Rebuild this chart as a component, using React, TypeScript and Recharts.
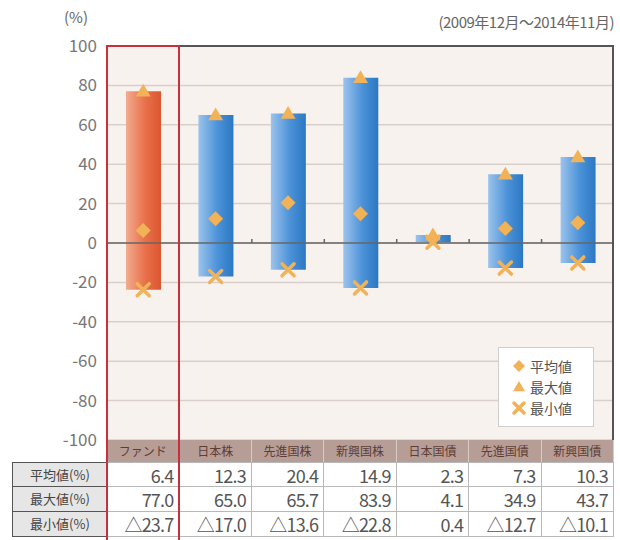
import React from "react";
import {
  ComposedChart,
  Bar,
  Scatter,
  XAxis,
  YAxis,
  CartesianGrid,
  ReferenceLine,
  Cell,
} from "recharts";

const categories = ["ファンド", "日本株", "先進国株", "新興国株", "日本国債", "先進国債", "新興国債"];
const avgValues = [6.4, 12.3, 20.4, 14.9, 2.3, 7.3, 10.3];
const maxValues = [77.0, 65.0, 65.7, 83.9, 4.1, 34.9, 43.7];
const minValues = [-23.7, -17.0, -13.6, -22.8, 0.4, -12.7, -10.1];
const yTicks = [-100, -80, -60, -40, -20, 0, 20, 40, 60, 80, 100];
const rowLabels = ["平均値(%)", "最大値(%)", "最小値(%)"];
const legendLabels = ["平均値", "最大値", "最小値"];

const chartData = categories.map((name, i) => ({
  name,
  range: [minValues[i], maxValues[i]],
  avg: avgValues[i],
  max: maxValues[i],
  min: minValues[i],
  // tick on the zero line at the left edge of this category (the first two fall on the red box)
  boundary: i >= 2 ? 0 : null,
}));

const MARK = "#f2b257";
const FONT = "'Noto Sans CJK JP', 'Noto Sans', sans-serif";

const CHART_W = 620;
const PLOT_TOP = 46;
const PLOT_BOTTOM = 440;
const PLOT_LEFT = 107;
const PLOT_RIGHT = 614;
const BAND = (PLOT_RIGHT - PLOT_LEFT) / categories.length;

function Diamond({ cx, cy, s = 7 }: any) {
  if (cx == null || cy == null) return null;
  return (
    <path
      d={`M${cx},${cy - s} L${cx + s},${cy} L${cx},${cy + s} L${cx - s},${cy} Z`}
      fill={MARK}
    />
  );
}

function Triangle({ cx, cy, s = 7 }: any) {
  if (cx == null || cy == null) return null;
  return (
    <path
      d={`M${cx},${cy - s} L${cx + s},${cy + s * 0.7} L${cx - s},${cy + s * 0.7} Z`}
      fill={MARK}
    />
  );
}

function XMark({ cx, cy, s = 6 }: any) {
  if (cx == null || cy == null) return null;
  return (
    <g stroke={MARK} strokeWidth={3.5} strokeLinecap="round">
      <line x1={cx - s} y1={cy - s} x2={cx + s} y2={cy + s} />
      <line x1={cx - s} y1={cy + s} x2={cx + s} y2={cy - s} />
    </g>
  );
}

function ZeroTick({ x, y }: any) {
  if (x == null || y == null || isNaN(y)) return null;
  const bx = x - BAND / 2;
  return <line x1={bx} y1={y} x2={bx} y2={y - 4} stroke="#666" strokeWidth={1.5} />;
}

function LegendBox() {
  const icons = [Diamond, Triangle, XMark];
  return (
    <div
      style={{
        position: "absolute",
        left: 498,
        top: 347,
        width: 96,
        height: 80,
        background: "#fff",
        border: "1px solid #cfcfcf",
        boxSizing: "border-box",
        padding: "7px 0 0 12px",
        fontSize: 14,
        color: "#555",
      }}
    >
      {legendLabels.map((label, i) => {
        const Icon = icons[i];
        return (
          <div key={label} style={{ display: "flex", alignItems: "center", height: 21 }}>
            <svg width={16} height={16} style={{ marginRight: 3 }}>
              <Icon cx={8} cy={8} s={i === 2 ? 5 : 6} />
            </svg>
            <span>{label}</span>
          </div>
        );
      })}
    </div>
  );
}

function fmtMin(v: number) {
  return v < 0 ? "△" + Math.abs(v).toFixed(1) : v.toFixed(1);
}

function DataTable() {
  const rows = [avgValues.map((v) => v.toFixed(1)), maxValues.map((v) => v.toFixed(1)), minValues.map(fmtMin)];
  const cellBase: React.CSSProperties = {
    height: 25,
    padding: "0 5px 0 0",
    textAlign: "right",
    fontSize: 18,
    color: "#555",
    borderRight: "1px solid #b8b8b8",
    borderBottom: "1px solid #b8b8b8",
    boxSizing: "border-box",
    letterSpacing: -0.8,
    lineHeight: "24px",
  };
  return (
    <div style={{ position: "absolute", left: 12, top: PLOT_BOTTOM }}>
      <div style={{ display: "flex", height: 22, marginLeft: PLOT_LEFT - 12 }}>
        {categories.map((c) => (
          <div
            key={c}
            style={{
              width: BAND,
              height: 22,
              background: "#b69d96",
              color: "#5e3d37",
              fontSize: 12,
              textAlign: "center",
              lineHeight: "22px",
              borderRight: "1px solid #d9cbc6",
              boxSizing: "border-box",
            }}
          >
            {c}
          </div>
        ))}
      </div>
      {rows.map((r, ri) => (
        <div key={ri} style={{ display: "flex" }}>
          <div
            style={{
              width: PLOT_LEFT - 12,
              height: 25,
              background: "#e6e6e6",
              color: "#444",
              fontSize: 13,
              lineHeight: "24px",
              textAlign: "center",
              borderLeft: "1.5px solid #555",
              borderBottom: "1.5px solid #555",
              borderTop: ri === 0 ? "1.5px solid #555" : "none",
              boxSizing: "border-box",
            }}
          >
            {rowLabels[ri]}
          </div>
          {r.map((v, ci) => (
            <div key={ci} style={{ ...cellBase, width: BAND, background: "#fff", borderTop: ri === 0 ? "1px solid #b8b8b8" : "none" }}>
              {v}
            </div>
          ))}
        </div>
      ))}
    </div>
  );
}

export default function App() {
  return (
    <div style={{ position: "fixed", left: 0, top: 0, width: 620, height: 540, background: "#fff", overflow: "hidden", fontFamily: FONT }}>
      <div style={{ position: "absolute", left: 64, top: 6, fontSize: 15, color: "#666" }}>(%)</div>
      <div style={{ position: "absolute", right: 6, top: 11, fontSize: 15, color: "#666", letterSpacing: -0.5 }}>
        (2009年12月～2014年11月)
      </div>
      <ComposedChart
        width={CHART_W}
        height={PLOT_BOTTOM + 14}
        data={chartData}
        margin={{ top: PLOT_TOP, right: CHART_W - PLOT_RIGHT, bottom: 14, left: PLOT_LEFT - 60 }}
        barCategoryGap={0}
      >
        <defs>
          <linearGradient id="fundGrad" x1="0" y1="0" x2="1" y2="0">
            <stop offset="0%" stopColor="#f3ab8f" />
            <stop offset="55%" stopColor="#e8704a" />
            <stop offset="100%" stopColor="#dc5630" />
          </linearGradient>
          <linearGradient id="blueGrad" x1="0" y1="0" x2="1" y2="0">
            <stop offset="0%" stopColor="#9cc3ec" />
            <stop offset="55%" stopColor="#4b92d8" />
            <stop offset="100%" stopColor="#2b78c3" />
          </linearGradient>
        </defs>
        <CartesianGrid vertical={false} stroke="#d8cfca" fill="#f8f2ee" strokeWidth={1.5} />
        <XAxis dataKey="name" hide />
        <YAxis
          domain={[-100, 100]}
          ticks={yTicks}
          width={60}
          axisLine={false}
          tickLine={false}
          tickSize={0}
          tickMargin={10}
          tick={{ fontSize: 17, fill: "#777", fontFamily: FONT }}
        />
        <ReferenceLine y={0} stroke="#666" strokeWidth={1.5} />
        <Scatter
          dataKey="boundary"
          shape={(p: any) => <ZeroTick x={p.cx} y={p.cy} />}
          isAnimationActive={false}
        />
        <Bar dataKey="range" barSize={35} isAnimationActive={false}>
          {chartData.map((d, i) => (
            <Cell key={d.name} fill={i === 0 ? "url(#fundGrad)" : "url(#blueGrad)"} />
          ))}
        </Bar>
        <Scatter dataKey="avg" shape={(p: any) => <Diamond cx={p.cx} cy={p.cy} s={7.5} />} isAnimationActive={false} />
        <Scatter dataKey="max" shape={(p: any) => <Triangle cx={p.cx} cy={p.cy} s={7.5} />} isAnimationActive={false} />
        <Scatter dataKey="min" shape={(p: any) => <XMark cx={p.cx} cy={p.cy} s={6} />} isAnimationActive={false} />
      </ComposedChart>
      <LegendBox />
      {/* frame: dark top/right, red highlight around the fund column */}
      <div style={{ position: "absolute", left: PLOT_LEFT, top: PLOT_TOP - 1, width: PLOT_RIGHT - PLOT_LEFT, height: PLOT_BOTTOM - PLOT_TOP + 1, borderTop: "2px solid #555", borderRight: "2px solid #555", boxSizing: "border-box" }} />
      <DataTable />
      <div style={{ position: "absolute", left: PLOT_LEFT - 1, top: PLOT_TOP - 1, width: BAND + 2, height: 540 - PLOT_TOP + 1, border: "2px solid #c7303f", borderBottom: "none", boxSizing: "border-box" }} />
    </div>
  );
}
